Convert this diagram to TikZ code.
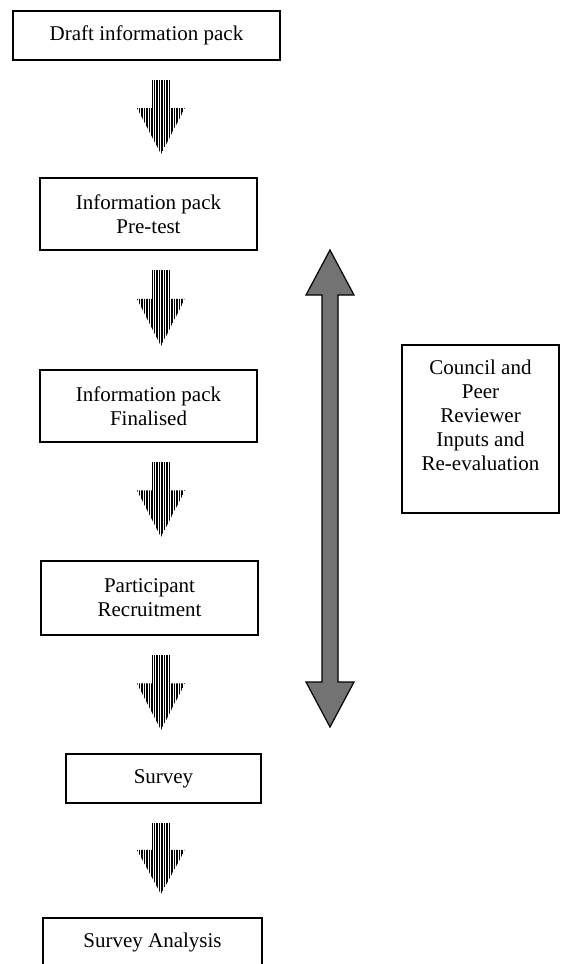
\documentclass[tikz,border=0pt]{standalone}
\usepackage{fontspec}
\setmainfont{Liberation Serif}
\usetikzlibrary{calc}

\tikzset{
  stage/.style={draw, line width=1.8pt, align=center, inner sep=0pt},
  reviewarrow/.style={draw=black, line width=1.2pt, fill=black!55},
  stripe/.style={line width=1.1pt}
}

% striped arrow between two stages
\newcommand{\stripedown}[2]{%
  \coordinate (t) at ($(col |- #1.south)+(0,-19)$);
  \coordinate (b) at ($(col |- #2.north)+(0,23)$);
  \coordinate (w) at ($(t)!0.38!(b)$);
  \begin{scope}
    \clip ($(t)+(-9,0)$) -- ($(t)+(9,0)$) -- ($(w)+(9,0)$) -- ($(w)+(24,0)$)
      -- (b) -- ($(w)+(-24,0)$) -- ($(w)+(-9,0)$) -- cycle;
    \foreach \dx in {-24,-21.5,...,24}
      \draw[stripe] ($(t)+(\dx,0)$) -- ($(b)+(\dx,0)$);
  \end{scope}}

\begin{document}
\begin{tikzpicture}[x=1pt,y=1pt,every node/.style={font=\fontsize{21}{24}\selectfont}]
\useasboundingbox (0,0) rectangle (560,-964);
\coordinate (col) at (161,0);

\node[stage,minimum width=267pt,minimum height=49pt] (draft) at (146.5,-35.5) {Draft information pack};
\node[stage,minimum width=217pt,minimum height=72pt] (pretest) at (148.5,-214) {Information pack\\Pre-test};
\node[stage,minimum width=217pt,minimum height=72pt] (final) at (148.5,-406) {Information pack\\Finalised};
\node[stage,minimum width=217pt,minimum height=74pt] (recruit) at (149.5,-598) {Participant\\Recruitment};
\node[stage,minimum width=195pt,minimum height=49pt] (survey) at (163.5,-778.5) {Survey};
\node[stage,minimum width=219pt,minimum height=49pt] (analysis) at (152.5,-942.5) {Survey Analysis};

\node[stage,minimum width=157pt,minimum height=168pt,text depth=27pt] (review) at (480.5,-429)
  {Council and\\Peer\\Reviewer\\Inputs and\\Re-evaluation};

\stripedown{draft}{pretest}
\stripedown{pretest}{final}
\stripedown{final}{recruit}
\stripedown{recruit}{survey}
\stripedown{survey}{analysis}

\coordinate (revtop) at (330,-250);
\coordinate (revbot) at (330,-727);
\draw[reviewarrow] (revtop) -- ++(24,-45) -- ++(-16,0) -- ($(revbot)+(8,45)$) -- ++(16,0)
  -- (revbot) -- ++(-24,45) -- ++(16,0) -- ($(revtop)+(-8,-45)$) -- ++(-16,0) -- cycle;
\end{tikzpicture}
\end{document}
